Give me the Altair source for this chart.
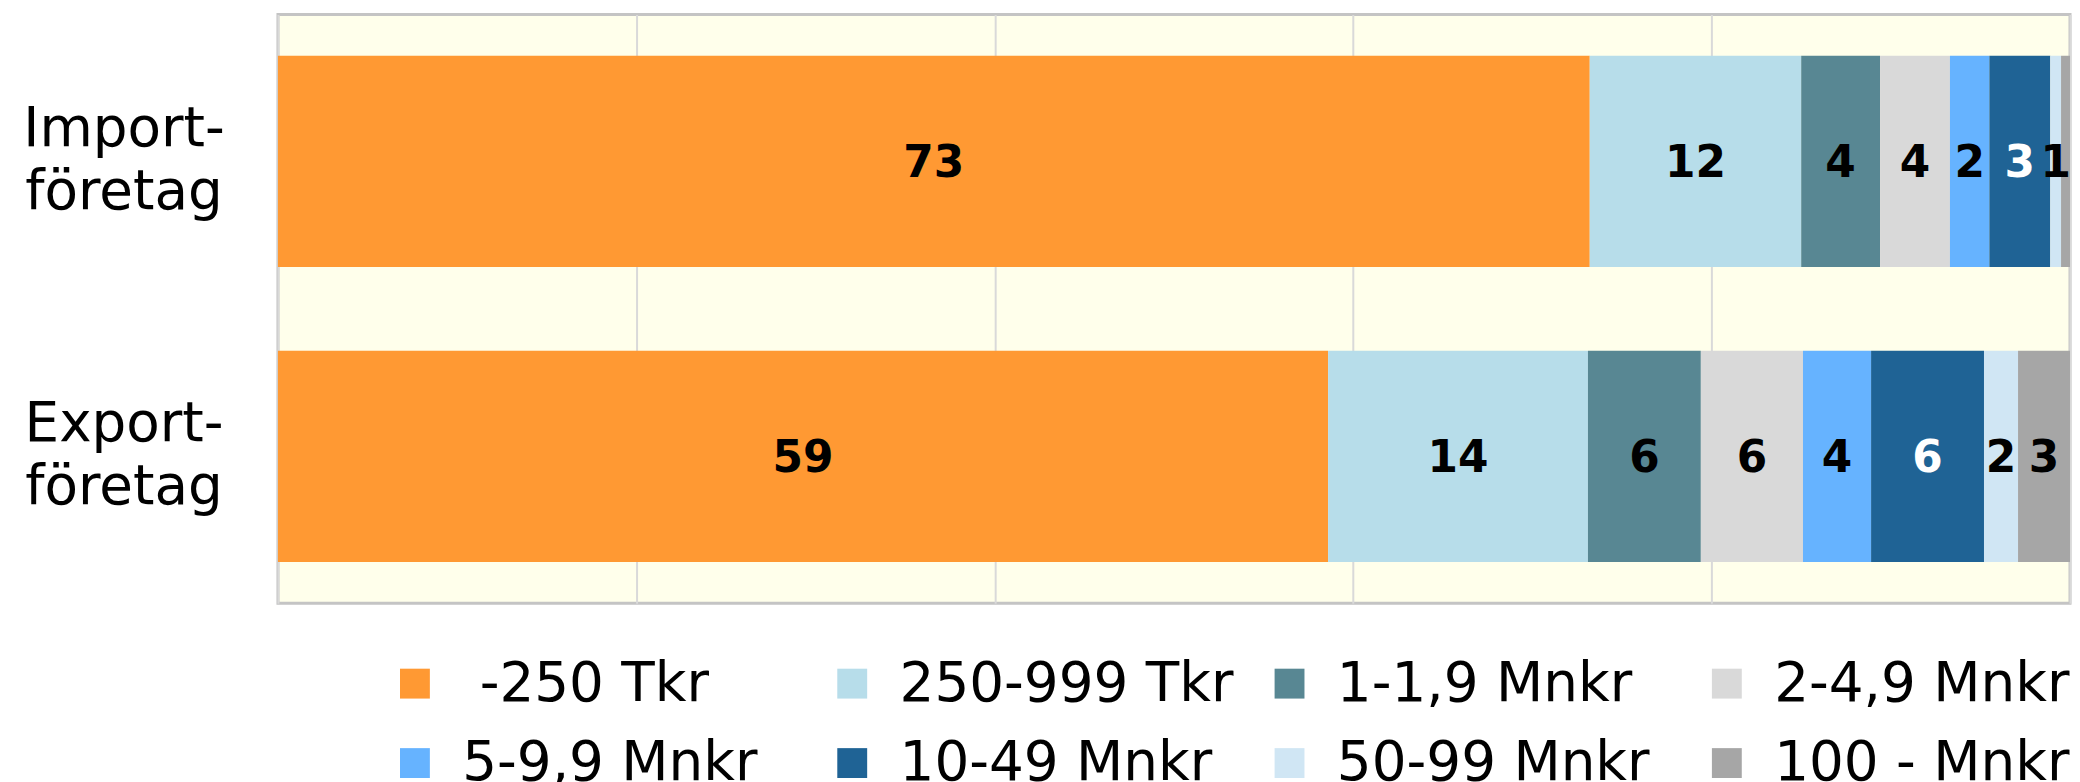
import altair as alt
import pandas as pd

groups = ["Import-|företag", "Export-|företag"]
classes = ["\u200b\u00a0-250 Tkr", "250-999 Tkr", "1-1,9 Mnkr", "2-4,9 Mnkr",
           "5-9,9 Mnkr", "10-49 Mnkr", "50-99 Mnkr", "100 - Mnkr"]
colors = ["#FF9933", "#B7DDEA", "#588793", "#D9D9D9",
          "#66B3FF", "#1F6395", "#D0E6F4", "#A6A6A6"]
import_pct = [73.2, 11.8, 4.4, 3.9, 2.2, 3.4, 0.6, 0.5]
export_pct = [58.6, 14.5, 6.3, 5.7, 3.8, 6.3, 1.9, 2.9]
import_labels = ["73", "12", "4", "4", "2", "3", "1", ""]
export_labels = ["59", "14", "6", "6", "4", "6", "2", "3"]

rows = []
for g, vals, labs in [(groups[0], import_pct, import_labels),
                      (groups[1], export_pct, export_labels)]:
    for i, (c, v, l) in enumerate(zip(classes, vals, labs)):
        rows.append({"group": g, "cls": c, "order": i, "pct": v, "lab": l})
df = pd.DataFrame(rows)

base = alt.Chart(df).transform_stack(
    stack="pct", as_=["x0", "x1"], groupby=["group"],
    sort=[alt.SortField("order")]
).transform_calculate(mid="(datum.x0 + datum.x1) / 2")

y_enc = alt.Y(
    "group:N", sort=groups,
    scale=alt.Scale(paddingInner=0.284, paddingOuter=0.14),
    axis=alt.Axis(title=None, labelExpr="split(datum.label, '|')",
                  labelFont="DejaVu Sans", labelFontSize=55, labelColor="black",
                  labelAlign="center", labelBaseline="middle", labelPadding=155,
                  labelLineHeight=63, labelOffset=-32, ticks=False, tickSize=0,
                  domain=False, labelLimit=400)
)

bars = base.mark_bar().encode(
    y=y_enc,
    x=alt.X("x0:Q", scale=alt.Scale(domain=[0, 100], nice=False),
            axis=alt.Axis(values=[0, 20, 40, 60, 80, 100], labels=False,
                          ticks=False, domain=False, title=None, grid=True,
                          gridColor="#D9D9D9", gridWidth=2)),
    x2="x1:Q",
    color=alt.Color("cls:N", scale=alt.Scale(domain=classes, range=colors),
                    legend=alt.Legend(title=None, orient="none", legendX=110,
                                      legendY=644, direction="horizontal",
                                      columns=4, gridAlign="all",
                                      columnPadding=28, rowPadding=24,
                                      symbolType="square", symbolSize=900,
                                      symbolStrokeWidth=0, labelOffset=20,
                                      labelFont="DejaVu Sans", labelFontSize=55,
                                      labelColor="black", labelLimit=600,
                                      padding=0))
)

texts = base.mark_text(font="DejaVu Sans", fontWeight="bold", fontSize=44,
                       baseline="middle", align="center", dy=3).encode(
    y=alt.Y("group:N", sort=groups),
    x=alt.X("mid:Q"),
    text="lab:N",
    color=alt.condition("datum.cls == '10-49 Mnkr'", alt.value("white"),
                        alt.value("black"))
)

chart = alt.layer(bars, texts).properties(
    width=1799, height=591,
    padding={"left": 271, "top": 5, "right": 2, "bottom": 178},
    autosize=alt.AutoSizeParams(type="none")
).configure_view(fill="#FFFFEB", stroke="#C4C4C4", strokeWidth=3)

chart.save("out.html", embed_options={"renderer": "svg", "actions": False})
